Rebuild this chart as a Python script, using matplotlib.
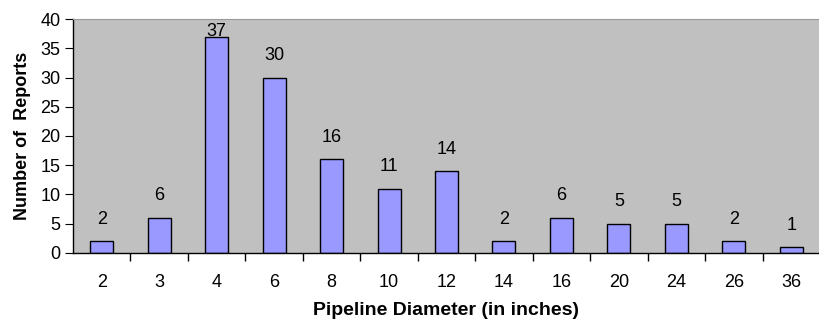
import numpy as np
import matplotlib
matplotlib.use("Agg")
import matplotlib.pyplot as plt

plt.rcParams['font.family'] = ['Liberation Sans', 'DejaVu Sans']

diameters = ['2', '3', '4', '6', '8', '10', '12', '14', '16', '20', '24', '26', '36']
reports = [2, 6, 37, 30, 16, 11, 14, 2, 6, 5, 5, 2, 1]

fig = plt.figure(figsize=(8.2, 3.23), dpi=100)
ax = fig.add_axes([0.089, 0.217, 0.911, 0.724])
ax.set_facecolor('#C0C0C0')

x = np.arange(len(diameters))
ax.bar(x, reports, width=0.4, color='#9999FF', edgecolor='black', linewidth=1.0, zorder=2)

for xi, v in zip(x, reports):
    # labels near the top get squeezed down like the original
    ty = min(v + 3.75, 37.9)
    ax.text(xi, ty, str(v), ha='center', va='center', fontsize=13, zorder=3)

ax.set_xlim(-0.5, len(diameters) - 0.5)
ax.set_ylim(0, 40)
ax.set_yticks(range(0, 41, 5))
ax.set_xticks(x)
ax.set_xticklabels(diameters)
ax.set_xticks(np.arange(0.5, len(diameters) - 0.5, 1), minor=True)
ax.tick_params(axis='x', which='major', length=0, pad=15, labelsize=13)
ax.tick_params(axis='x', which='minor', length=6, direction='out', width=1)
ax.tick_params(axis='y', length=6, direction='out', labelsize=13, pad=3)

ax.spines['right'].set_visible(False)
ax.spines['top'].set_color('#9a9a9a')
ax.spines['top'].set_linewidth(0.8)
ax.spines['left'].set_linewidth(1)
ax.spines['bottom'].set_linewidth(1)

ax.set_ylabel('Number of  Reports', fontsize=13, fontweight='bold', labelpad=7)
ax.set_xlabel('Pipeline Diameter (in inches)', fontsize=14, fontweight='bold', labelpad=8)

fig.savefig('out.png', dpi=100)
